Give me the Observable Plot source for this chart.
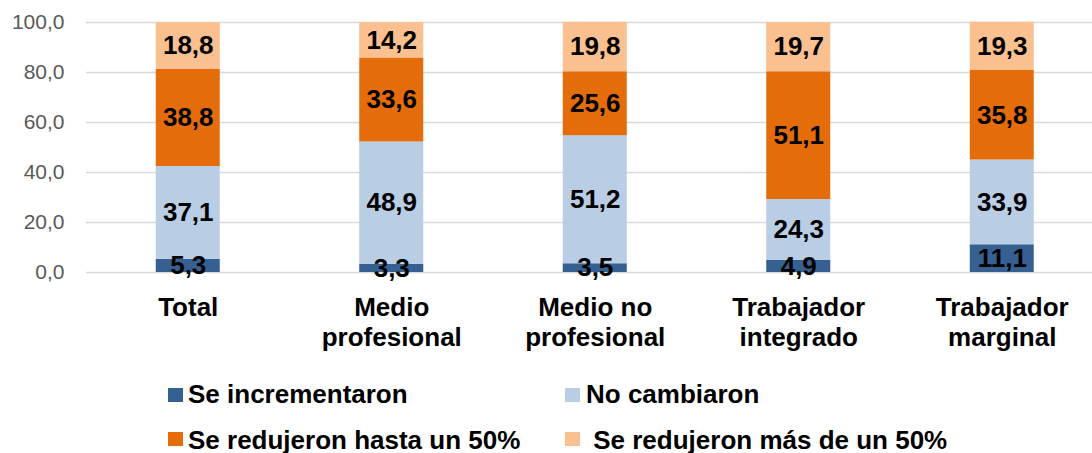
<!DOCTYPE html>
<html>
<head>
<meta charset="utf-8">
<script src="https://cdn.jsdelivr.net/npm/d3@7"></script>
<script src="https://cdn.jsdelivr.net/npm/@observablehq/plot@0.6"></script>
<style>
  html, body { margin: 0; padding: 0; background: #fff; }
  body { width: 1092px; height: 453px; overflow: hidden; font-family: "Liberation Sans", Arial, sans-serif; }
  #chart svg { display: block; }
  #legend { position: relative; width: 1092px; height: 83px; }
  #legend .sw { position: absolute; width: 15px; height: 14px; }
  #legend .lb { position: absolute; font-size: 26px; font-weight: bold; line-height: 30px; color: #000; white-space: pre; }
</style>
</head>
<body>
<div id="chart"></div>
<div id="legend"></div>
<script>
// ---- data ----
const categories = ["Total", "Medio profesional", "Medio no profesional", "Trabajador integrado", "Trabajador marginal"];
const categoryLabels = ["Total", "Medio\nprofesional", "Medio no\nprofesional", "Trabajador\nintegrado", "Trabajador\nmarginal"];
const seriesNames = ["Se incrementaron", "No cambiaron", "Se redujeron hasta un 50%", "Se redujeron más de un 50%"];
const legendLabels = ["Se incrementaron", "No cambiaron", "Se redujeron hasta un 50%", " Se redujeron más de un 50%"];
const seIncrementaron = [5.3, 3.3, 3.5, 4.9, 11.1];
const noCambiaron = [37.1, 48.9, 51.2, 24.3, 33.9];
const seRedujeronHasta50 = [38.8, 33.6, 25.6, 51.1, 35.8];
const seRedujeronMas50 = [18.8, 14.2, 19.8, 19.7, 19.3];
const yTicks = [0, 20, 40, 60, 80, 100];
const colors = ["#376092", "#B9CDE5", "#E46C0A", "#FAC090"];

const seriesValues = [seIncrementaron, noCambiaron, seRedujeronHasta50, seRedujeronMas50];
const table = [];
seriesNames.forEach((s, si) => {
  categories.forEach((c, ci) => {
    table.push({category: c, series: s, value: seriesValues[si][ci]});
  });
});

const fmt = d => d.toFixed(1).replace(".", ",");

const chart = Plot.plot({
  width: 1092,
  height: 370,
  marginLeft: 86,
  marginRight: 0,
  marginTop: 22,
  marginBottom: 98,
  style: {fontFamily: "'Liberation Sans', Arial, sans-serif", background: "#fff"},
  x: {type: "band", domain: categories, range: [86, 1103.5], paddingInner: 0.6855, paddingOuter: 0.34275, round: false, axis: null},
  y: {domain: [0, 100], axis: null},
  color: {domain: seriesNames, range: colors},
  marks: [
    Plot.gridY(yTicks, {stroke: "#d9d9d9", strokeOpacity: 1, strokeWidth: 1.5}),
    Plot.barY(table, Plot.stackY({x: "category", y: "value", z: "series", fill: "series", order: null})),
    Plot.text(table, Plot.stackY({x: "category", y: "value", z: "series", order: null,
      text: d => fmt(d.value), fill: "#000", fontSize: 26, fontWeight: "bold"})),
    Plot.axisY(yTicks, {tickSize: 0, tickPadding: 22, tickFormat: fmt, fontSize: 21, fill: "#595959", label: null}),
    Plot.text(categories, {x: d => d, frameAnchor: "bottom", dy: 22.5, lineAnchor: "top", lineHeight: 1.15,
      text: (d, i) => categoryLabels[i], fontSize: 26, fontWeight: "bold", fill: "#000"})
  ]
});
document.getElementById("chart").appendChild(chart);

// ---- legend (HTML, below the SVG) ----
const legend = document.getElementById("legend");
const colX = [168, 565];
const textX = [188, 586];
const swTop = [18, 62];
const txtTop = [9, 55];
seriesNames.forEach((s, i) => {
  const col = i % 2, row = Math.floor(i / 2);
  const sw = document.createElement("div");
  sw.className = "sw";
  sw.style.left = colX[col] + "px";
  sw.style.top = swTop[row] + "px";
  sw.style.background = colors[i];
  legend.appendChild(sw);
  const lb = document.createElement("div");
  lb.className = "lb";
  lb.style.left = textX[col] + "px";
  lb.style.top = txtTop[row] + "px";
  lb.textContent = legendLabels[i];
  legend.appendChild(lb);
});
</script>
</body>
</html>
